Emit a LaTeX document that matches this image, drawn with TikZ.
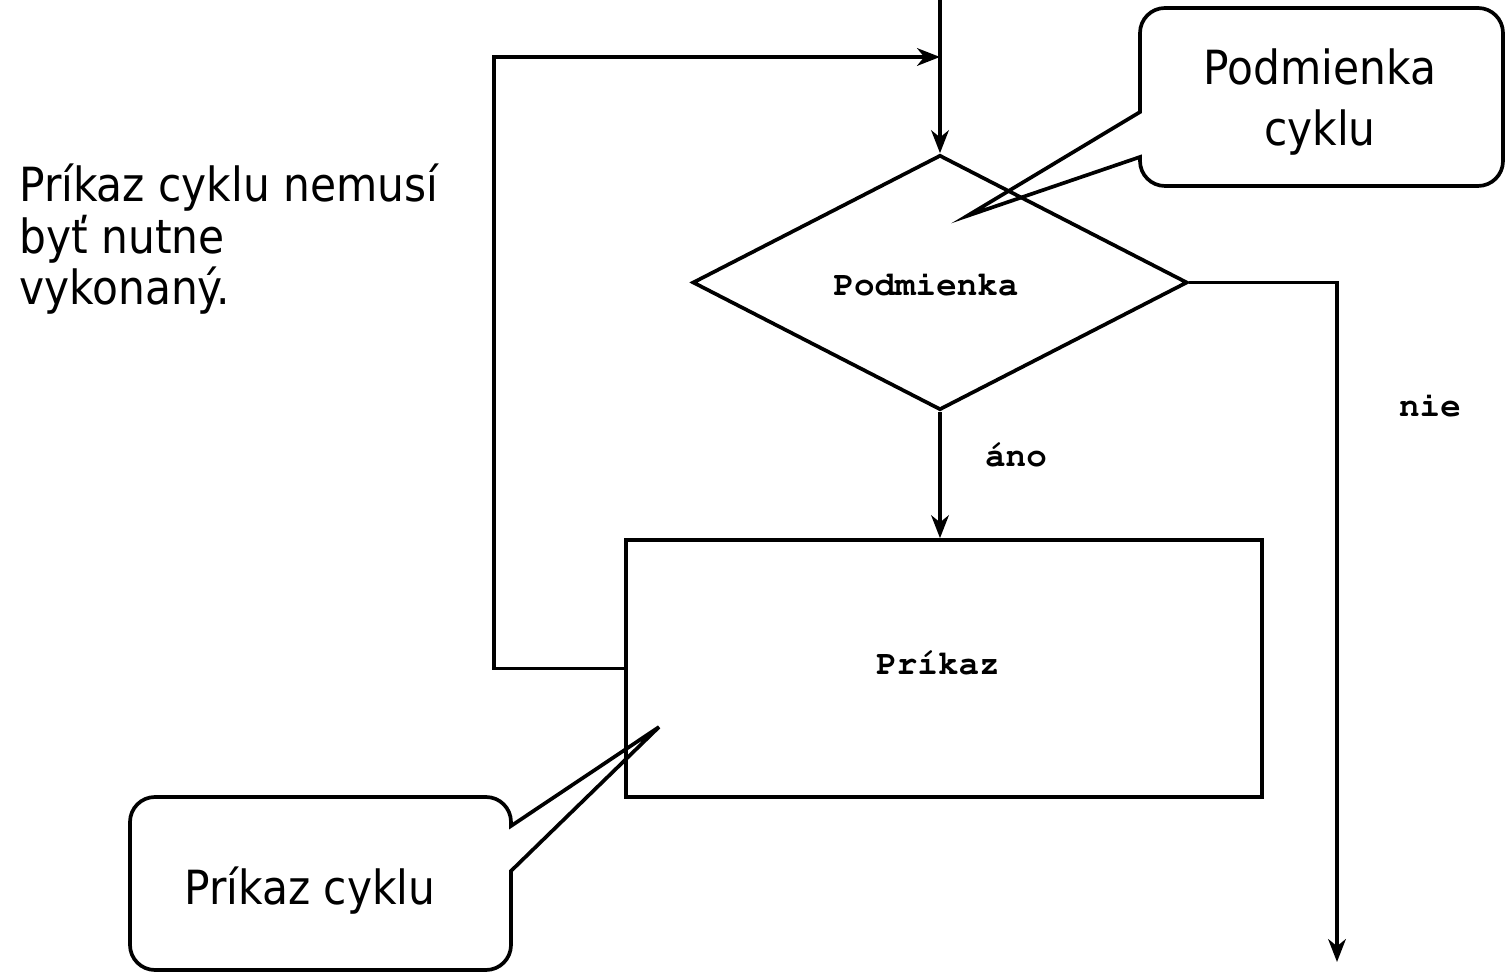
\documentclass[tikz,border=0pt]{standalone}
\usepackage[T1]{fontenc}
\usepackage{fontspec}
\usetikzlibrary{arrows.meta,shapes.geometric}
\newfontfamily\tah{DejaVu Sans Condensed}
\newcommand\courb{\fontencoding{T1}\fontfamily{pcr}\fontseries{b}\selectfont}
\begin{document}
\begin{tikzpicture}[x=0.02cm,y=-0.02cm,
  ln/.style={line width=2.1pt},
  arr/.style={ln,-{Stealth[length=13pt,width=10pt,inset=4pt]}},
  lbl/.style={font=\courb\fontsize{19.5}{21}\selectfont,inner sep=0pt},
  big/.style={font=\tah\fontsize{26.8}{33}\selectfont,inner sep=0pt},
  note/.style={font=\tah\fontsize{26.8}{29.5}\selectfont,inner sep=0pt}]
\useasboundingbox (0,0) rectangle (1505,972);
% shapes
\node[diamond,draw,ln,inner sep=0pt,minimum width=9.9cm,minimum height=5.1cm,shape aspect=1.94] (dia) at (940,282.5) {};
\node[lbl] (diat) at (926,284) {Podmienka};
\node[draw,ln,minimum width=12.72cm,minimum height=5.14cm,inner sep=0pt] (box) at (944,668.5) {};
\node[lbl] (boxt) at (938,663) {Príkaz};
\node[lbl] (ano) at (1016,455) {áno};
\node[lbl] (nie) at (1430,405) {nie};
% coordinates
\coordinate (top) at (940,0);
\coordinate (lp) at (494,57);
\coordinate (jn) at (940,57);
\coordinate (ex) at (1337,962);
% connectors
\draw[arr] (top) -- (dia.north);
\draw[arr] (dia.south) -- (dia.south |- box.north);
\draw[arr] (box.west) -| (lp) -- (jn);
\draw[arr] (dia.east) -| (ex);
% left text
\node[note,anchor=base west,align=left] (note) at (19,305) {Príkaz cyklu nemusí\\byť nutne\\vykonaný.};
% top callout
\coordinate (tip1) at (967,216);
\draw[ln,line join=miter] (1140,157) -- (tip1) -- (1140,112) [rounded corners=0.5cm] -- (1140,8) -- (1503,8) -- (1503,186) -- (1140,186) [sharp corners] -- cycle;
\node[big,anchor=base] (c1a) at (1320,85) {Podmienka};
\node[big,anchor=base] (c1b) at (1320,146) {cyklu};
% bottom callout
\coordinate (tip2) at (659,727);
\draw[ln,line join=miter] (511,826) -- (tip2) -- (511,871) [rounded corners=0.5cm] -- (511,970) -- (130,970) -- (130,797) -- (511,797) [sharp corners] -- cycle;
\node[big,anchor=base] (c2) at (310,905) {Príkaz cyklu};
\end{tikzpicture}
\end{document}
